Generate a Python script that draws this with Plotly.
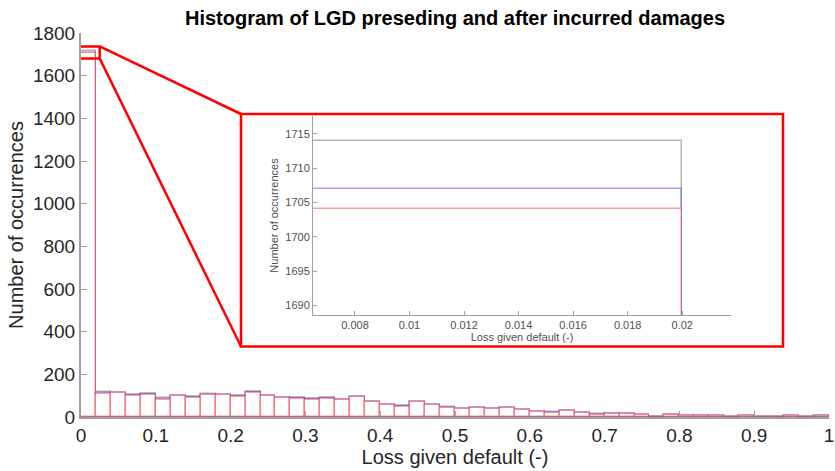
import plotly.graph_objects as go

# ---- data ----
bin_width = 0.02
bin_centers = [round(bin_width * (i + 0.5), 4) for i in range(50)]

counts_gray = [1714, 115, 113, 104, 109, 85, 100, 94, 107, 103,
               97, 116, 100, 91, 87, 83, 87, 80, 95, 71,
               55, 51, 69, 57, 44, 37, 40, 37, 42, 32,
               25, 21, 28, 20, 11, 14, 14, 10, 2, 8,
               4, 3, 4, 2, 3, 1, 2, 3, 2, 3]
counts_blue = [1707, 113, 113, 103, 106, 88, 100, 93, 104, 104,
               98, 117, 100, 91, 88, 84, 87, 81, 95, 71,
               56, 52, 71, 57, 46, 37, 40, 38, 43, 33,
               24, 22, 28, 19, 12, 14, 14, 11, 2, 8,
               4, 3, 4, 2, 3, 1, 2, 3, 2, 3]
counts_red = [1704, 110, 112, 98, 105, 80, 99, 91, 103, 102,
              95, 114, 97, 90, 86, 82, 86, 78, 93, 69,
              55, 49, 68, 55, 43, 36, 40, 36, 40, 31,
              24, 20, 29, 19, 11, 15, 13, 8, 2, 10,
              3, 3, 4, 2, 3, 1, 2, 4, 1, 4]

main_xticks = [0, 0.1, 0.2, 0.3, 0.4, 0.5, 0.6, 0.7, 0.8, 0.9, 1]
main_xticktext = ["0", "0.1", "0.2", "0.3", "0.4", "0.5", "0.6", "0.7", "0.8", "0.9", "1"]
main_yticks = [0, 200, 400, 600, 800, 1000, 1200, 1400, 1600, 1800]
inset_xticks = [0.008, 0.010, 0.012, 0.014, 0.016, 0.018, 0.020]
inset_xticktext = ["0.008", "0.01", "0.012", "0.014", "0.016", "0.018", "0.02"]
inset_yticks = [1690, 1695, 1700, 1705, 1710, 1715]

FONT = "Liberation Sans, Arial, Helvetica, sans-serif"
TXT = "rgb(38,38,38)"
AX = "rgb(160,160,160)"
INS = "rgb(80,80,80)"

series = [
    (counts_gray, "rgba(0,0,0,0)", "rgba(110,110,110,0.5)"),
    (counts_blue, "rgba(0,0,0,0)", "rgba(60,60,255,0.45)"),
    (counts_red, "rgba(255,255,255,0.9)", "rgba(255,40,40,0.45)"),
]

fig = go.Figure()
for xa, ya in [("x", "y"), ("x2", "y2")]:
    for vals, fill, edge in series:
        fig.add_trace(go.Bar(
            x=bin_centers, y=vals, width=bin_width,
            marker=dict(color=fill, line=dict(color=edge, width=1.5)),
            xaxis=xa, yaxis=ya, showlegend=False, hoverinfo="skip",
        ))

# layout geometry (pixels)
W, H = 835, 471
ML, MR, MT, MB = 81, 6, 33, 54
PW = W - ML - MR
PH = H - MT - MB


def px_x(p):
    return (p - ML) / PW


def px_y(p):
    return (H - MB - p) / PH


inset_dom_x = [px_x(313), px_x(731)]
inset_dom_y = [px_y(315), px_y(116)]

fig.update_layout(
    width=W, height=H,
    margin=dict(l=ML, r=MR, t=MT, b=MB),
    paper_bgcolor="white", plot_bgcolor="white",
    barmode="overlay", bargap=0,
    font=dict(family=FONT, color=TXT),
    title=dict(text="<b>Histogram of LGD preseding and after incurred damages</b>",
               x=0.5, xref="paper", xanchor="center",
               y=1 - 18 / H, yanchor="middle",
               font=dict(size=20, color="black", family=FONT)),
    xaxis=dict(range=[0, 1], domain=[0, 1], tickvals=main_xticks, ticktext=main_xticktext,
               ticks="inside", ticklen=6, tickcolor=AX, showline=True, linecolor=AX,
               linewidth=2, showgrid=False, zeroline=False, ticklabeloverflow="allow",
               automargin=False,
               tickfont=dict(size=19, color=TXT),
               title=dict(text="Loss given default (-)", font=dict(size=20, color=TXT), standoff=4)),
    yaxis=dict(range=[0, 1800], domain=[0, 1], tickvals=main_yticks,
               ticks="inside", ticklen=6, tickcolor=AX, showline=True, linecolor=AX,
               linewidth=2, showgrid=False, zeroline=False, automargin=False,
               tickfont=dict(size=19, color=TXT),
               title=dict(text="Number of occurrences", font=dict(size=20, color=TXT), standoff=4)),
    xaxis2=dict(range=[0.00646, 0.02179], domain=inset_dom_x, anchor="y2",
                tickvals=inset_xticks, ticktext=inset_xticktext, automargin=False,
                ticks="inside", ticklen=4, tickcolor=AX, showline=True, linecolor=AX,
                linewidth=1, showgrid=False, zeroline=False,
                tickfont=dict(size=11, color=INS),
                title=dict(text="Loss given default (-)", font=dict(size=11, color=INS), standoff=2)),
    yaxis2=dict(range=[1688.6, 1717.6], domain=inset_dom_y, anchor="x2",
                tickvals=inset_yticks, automargin=False,
                ticks="inside", ticklen=4, tickcolor=AX, showline=True, linecolor=AX,
                linewidth=1, showgrid=False, zeroline=False,
                tickfont=dict(size=11, color=INS),
                title=dict(text="Number of occurrences", font=dict(size=11, color=INS), standoff=4)),
)

# zoom-indicator decorations
zx0, zx1 = -0.007, 0.025
zy0, zy1 = 1681, 1737
ymax = 1800.0
bx0, bx1, by0, by1 = px_x(241), px_x(783), px_y(346.5), px_y(114)
red = dict(color="rgb(255,0,0)", width=2.5)
fig.add_shape(type="rect", xref="x", yref="y", x0=zx0, x1=zx1, y0=zy0, y1=zy1, line=red)
fig.add_shape(type="rect", xref="paper", yref="paper", x0=bx0, x1=bx1, y0=by0, y1=by1, line=red)
fig.add_shape(type="line", xref="paper", yref="paper", x0=zx1, y0=zy1 / ymax, x1=bx0, y1=by1, line=red)
fig.add_shape(type="line", xref="paper", yref="paper", x0=zx1, y0=zy0 / ymax, x1=bx0, y1=by0, line=red)

fig.write_html("out.html")
